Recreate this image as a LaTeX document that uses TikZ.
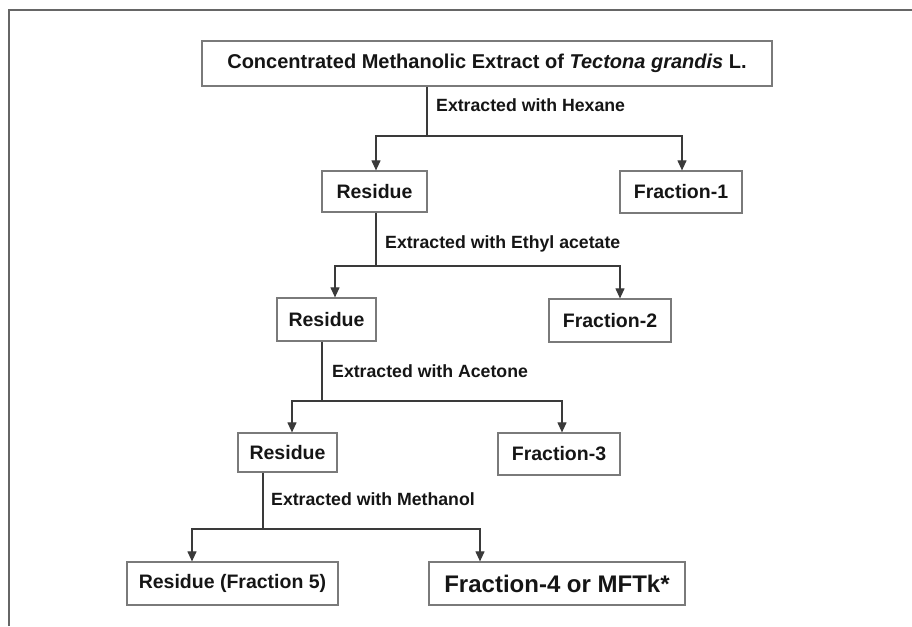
\documentclass[tikz,border=0pt]{standalone}
\usepackage{fontspec}
\setmainfont{Liberation Sans}
\usetikzlibrary{arrows.meta}
\definecolor{boxline}{HTML}{7A7A7A}
\definecolor{conn}{HTML}{3A3A3A}
\definecolor{framec}{HTML}{666666}
\definecolor{txt}{HTML}{151515}
\tikzset{
  boxnode/.style={draw=boxline, line width=1.2pt, inner sep=0pt, text=txt,
    font=\fontsize{19.5}{22}\selectfont\bfseries},
  labelnode/.style={anchor=west, inner sep=0pt, text=txt,
    font=\fontsize{17.7}{20}\selectfont\bfseries},
  conline/.style={draw=conn, line width=1.1pt},
  arr/.style={conline, -{Triangle[length=10pt,width=9pt]}},
}
\begin{document}
\begin{tikzpicture}[x=1pt,y=-1pt]
\useasboundingbox (0,0) rectangle (912,626);
% frame
\draw[framec, line width=2pt] (9,626) -- (9,10) -- (912,10);
% boxes
\node[boxnode, minimum width=570pt, minimum height=45pt,
  font=\fontsize{20}{24}\selectfont\bfseries] (title) at (487,63.5)
  {Concentrated Methanolic Extract of \textit{Tectona grandis} L.};
\node[boxnode, minimum width=105pt, minimum height=41pt] (res1) at (374.5,191.5) {Residue};
\node[boxnode, minimum width=122pt, minimum height=42pt] (frac1) at (681,192) {Fraction-1};
\node[boxnode, minimum width=99pt, minimum height=43pt] (res2) at (326.5,319.5) {Residue};
\node[boxnode, minimum width=122pt, minimum height=43pt] (frac2) at (610,320.5) {Fraction-2};
\node[boxnode, minimum width=99pt, minimum height=39pt] (res3) at (287.5,452.5) {Residue};
\node[boxnode, minimum width=122pt, minimum height=42pt] (frac3) at (559,454) {Fraction-3};
\node[boxnode, minimum width=211pt, minimum height=43pt] (res5) at (232.5,583.5) {Residue (Fraction 5)};
\node[boxnode, minimum width=256pt, minimum height=43pt,
  font=\fontsize{24}{28}\selectfont\bfseries] (frac4) at (557,583.5) {Fraction-4 or MFTk*};
% labels
\node[labelnode] (l1) at (436,105) {Extracted with Hexane};
\node[labelnode] (l2) at (385,244) {Extracted with Ethyl acetate};
\node[labelnode] (l3) at (332,371) {Extracted with Acetone};
\node[labelnode] (l4) at (271,499) {Extracted with Methanol};
% junction coordinates
\coordinate (j1) at (427,136);
\coordinate (j1L) at (376,136);
\coordinate (j1R) at (682,136);
\coordinate (j2) at (376,266);
\coordinate (j2L) at (335,266);
\coordinate (j2R) at (620,266);
\coordinate (j3) at (322,401);
\coordinate (j3L) at (292,401);
\coordinate (j3R) at (562,401);
\coordinate (j4) at (263,529);
\coordinate (j4L) at (192,529);
\coordinate (j4R) at (480,529);
% connectors
\draw[conline] (title.south -| j1) -- (j1);
\draw[arr] (j1) -- (j1L) -- (j1L |- res1.north);
\draw[arr] (j1) -- (j1R) -- (j1R |- frac1.north);
\draw[conline] (res1.south -| j2) -- (j2);
\draw[arr] (j2) -- (j2L) -- (j2L |- res2.north);
\draw[arr] (j2) -- (j2R) -- (j2R |- frac2.north);
\draw[conline] (res2.south -| j3) -- (j3);
\draw[arr] (j3) -- (j3L) -- (j3L |- res3.north);
\draw[arr] (j3) -- (j3R) -- (j3R |- frac3.north);
\draw[conline] (res3.south -| j4) -- (j4);
\draw[arr] (j4) -- (j4L) -- (j4L |- res5.north);
\draw[arr] (j4) -- (j4R) -- (j4R |- frac4.north);
\end{tikzpicture}
\end{document}
